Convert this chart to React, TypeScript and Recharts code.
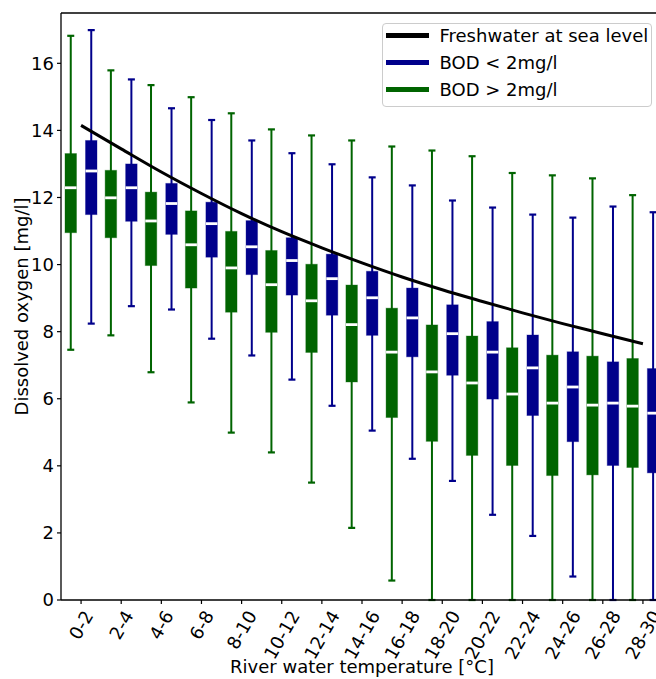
import { ComposedChart, Bar, Line, XAxis, YAxis, Legend, ReferenceLine } from 'recharts';

const bins = ['0-2', '2-4', '4-6', '6-8', '8-10', '10-12', '12-14', '14-16', '16-18', '18-20', '20-22', '22-24', '24-26', '26-28', '28-30'];

// dissolved oxygen of freshwater at sea level, at the bin midpoints
const freshwater = [14.15, 13.45, 12.76, 12.12, 11.52, 10.98, 10.5, 10.05, 9.63, 9.25, 8.9, 8.56, 8.24, 7.94, 7.64];

// BOD < 2mg/l (blue)
const lowMin = [8.24, 8.76, 8.66, 7.79, 7.29, 6.57, 5.79, 5.05, 4.21, 3.55, 2.54, 1.91, 0.7, 0, 0];
const lowQ1 = [11.49, 11.29, 10.9, 10.22, 9.7, 9.09, 8.49, 7.89, 7.25, 6.7, 5.99, 5.5, 4.72, 4.01, 3.79];
const lowMedian = [12.79, 12.29, 11.82, 11.22, 10.53, 10.12, 9.58, 9.01, 8.41, 7.94, 7.39, 6.92, 6.35, 5.87, 5.57];
const lowQ3 = [13.7, 13.0, 12.42, 11.86, 11.31, 10.8, 10.31, 9.8, 9.3, 8.8, 8.3, 7.9, 7.4, 7.1, 6.9];
const lowMax = [16.99, 15.52, 14.66, 14.31, 13.7, 13.32, 12.99, 12.6, 12.36, 11.91, 11.7, 11.49, 11.4, 11.73, 11.56];

// BOD > 2mg/l (green)
const highMin = [7.46, 7.89, 6.79, 5.89, 4.99, 4.4, 3.5, 2.15, 0.58, 0, 0, 0, 0, 0, 0];
const highQ1 = [10.95, 10.8, 9.97, 9.3, 8.58, 7.98, 7.38, 6.5, 5.44, 4.73, 4.31, 4.01, 3.71, 3.73, 3.95];
const highMedian = [12.29, 11.99, 11.3, 10.59, 9.9, 9.4, 8.92, 8.21, 7.39, 6.8, 6.47, 6.14, 5.87, 5.81, 5.78];
const highQ3 = [13.31, 12.81, 12.16, 11.6, 10.99, 10.42, 10.01, 9.39, 8.7, 8.2, 7.87, 7.52, 7.3, 7.27, 7.2];
const highMax = [16.82, 15.79, 15.35, 14.99, 14.51, 14.03, 13.85, 13.7, 13.52, 13.4, 13.23, 12.73, 12.66, 12.57, 12.07];

const yTicks = [0, 2, 4, 6, 8, 10, 12, 14, 16];

const legendLabels = ['Freshwater at sea level', 'BOD < 2mg/l', 'BOD > 2mg/l'];

const BLUE = '#00008b';
const GREEN = '#006400';
const FONT = '"DejaVu Sans", sans-serif';
const FS = 18;

type Stats = { min: number; q1: number; med: number; q3: number; max: number };

const data = bins.map((bin, i) => ({
    bin,
    fresh: freshwater[i],
    low: { min: lowMin[i], q1: lowQ1[i], med: lowMedian[i], q3: lowQ3[i], max: lowMax[i] },
    high: { min: highMin[i], q1: highQ1[i], med: highMedian[i], q3: highQ3[i], max: highMax[i] },
}));

// bar is a range [min, max]; inner values are placed on the same linear scale
const makeBox = (key: 'low' | 'high', color: string) => (props: any) => {
    const { x, y, width, height, payload } = props;
    const s: Stats = payload[key];
    const top = Math.min(y, y + height);
    const h = Math.abs(height);
    const toY = (v: number) => top + ((s.max - v) / (s.max - s.min)) * h;
    const cx = x + width / 2;
    return (
        <g>
            <line x1={cx} x2={cx} y1={toY(s.max)} y2={toY(s.min)} stroke={color} strokeWidth={2} />
            <line x1={cx - 3.5} x2={cx + 3.5} y1={toY(s.max)} y2={toY(s.max)} stroke={color} strokeWidth={2.2} />
            <line x1={cx - 3.5} x2={cx + 3.5} y1={toY(s.min)} y2={toY(s.min)} stroke={color} strokeWidth={2.2} />
            <rect
                x={x}
                y={toY(s.q3)}
                width={width}
                height={toY(s.q1) - toY(s.q3)}
                fill={color}
                stroke={color}
                strokeOpacity={0.35}
                strokeWidth={1}
            />
            <line x1={x} x2={x + width} y1={toY(s.med)} y2={toY(s.med)} stroke="#ffffff" strokeWidth={2.8} />
        </g>
    );
};

const labelWidth = (s: string) =>
    s.split('').reduce((w, c) => w + (c === '-' ? 0.361 : 0.636), 0) * FS;

const XTick = (props: any) => {
    const { x, y, payload } = props;
    const w = labelWidth(String(payload.value));
    const hBox = w * Math.sin(Math.PI / 3) + 1.15 * FS * Math.cos(Math.PI / 3);
    const cy = y + hBox / 2;
    return (
        <text
            x={x}
            y={cy}
            textAnchor="middle"
            dominantBaseline="central"
            transform={`rotate(-60, ${x}, ${cy})`}
            fontSize={FS}
            fontFamily={FONT}
            fill="#000"
        >
            {payload.value}
        </text>
    );
};

const legendColors = ['#000000', BLUE, GREEN];

const renderLegend = () => (
    <div
        style={{
            width: 270,
            height: 84,
            boxSizing: 'border-box',
            border: '1px solid #cccccc',
            borderRadius: 4,
            background: 'rgba(255,255,255,0.8)',
            position: 'relative',
            fontFamily: FONT,
            fontSize: FS,
            color: '#000',
        }}
    >
        {legendLabels.map((label, i) => (
            <div
                key={label}
                style={{
                    position: 'absolute',
                    left: 2.5,
                    top: i * 27.2 - 1.5,
                    height: 26,
                    display: 'flex',
                    alignItems: 'center',
                    whiteSpace: 'nowrap',
                }}
            >
                <div style={{ width: 43, height: 5, background: legendColors[i] }} />
                <span style={{ marginLeft: 11, lineHeight: 1 }}>{label}</span>
            </div>
        ))}
    </div>
);

const App = () => (
    <div style={{ position: 'absolute', left: 0, top: 0, width: 656, height: 679, overflow: 'hidden', background: '#fff' }}>
        <ComposedChart
            width={672}
            height={679}
            data={data}
            margin={{ top: 13, right: 9, bottom: 0, left: 0 }}
            barSize={11.5}
            barGap={9}
        >
            <XAxis
                dataKey="bin"
                interval={0}
                height={79}
                tickSize={4}
                tickMargin={3}
                tick={<XTick />}
                axisLine={{ stroke: '#000', strokeWidth: 1.3 }}
                tickLine={{ stroke: '#000', strokeWidth: 1.2 }}
                label={({ viewBox }: any) => (
                    <text
                        x={viewBox.x + viewBox.width / 2}
                        y={viewBox.y + 73}
                        textAnchor="middle"
                        fontSize={FS}
                        fontFamily={FONT}
                        fill="#000"
                    >
                        River water temperature [°C]
                    </text>
                )}
            />
            <YAxis
                type="number"
                domain={[0, 17.5]}
                ticks={yTicks}
                width={61}
                tickSize={4}
                tickMargin={3}
                tick={{ fill: '#000', fontSize: FS, fontFamily: FONT }}
                axisLine={{ stroke: '#000', strokeWidth: 1.3 }}
                tickLine={{ stroke: '#000', strokeWidth: 1.2 }}
                label={({ viewBox }: any) => {
                    const cy = viewBox.y + viewBox.height / 2;
                    return (
                        <text
                            x={21}
                            y={cy}
                            textAnchor="middle"
                            dominantBaseline="central"
                            transform={`rotate(-90, 21, ${cy})`}
                            fontSize={FS}
                            fontFamily={FONT}
                            fill="#000"
                        >
                            Dissolved oxygen [mg/l]
                        </text>
                    );
                }}
            />
            <ReferenceLine y={17.5} stroke="#000" strokeWidth={1.3} />
            <Bar
                dataKey={(d: any) => [d.high.min, d.high.max]}
                name="BOD > 2mg/l"
                fill={GREEN}
                shape={makeBox('high', GREEN)}
                isAnimationActive={false}
            />
            <Bar
                dataKey={(d: any) => [d.low.min, d.low.max]}
                name="BOD < 2mg/l"
                fill={BLUE}
                shape={makeBox('low', BLUE)}
                isAnimationActive={false}
            />
            <Line
                dataKey="fresh"
                name="Freshwater at sea level"
                type="monotone"
                stroke="#000"
                strokeWidth={3}
                dot={false}
                activeDot={false}
                isAnimationActive={false}
            />
            <Legend
                layout="horizontal"
                verticalAlign="middle"
                align="center"
                content={renderLegend}
                wrapperStyle={{ position: 'absolute', left: 382, top: 23, width: 270, height: 84, margin: 0, padding: 0 }}
            />
        </ComposedChart>
    </div>
);

export default App;
